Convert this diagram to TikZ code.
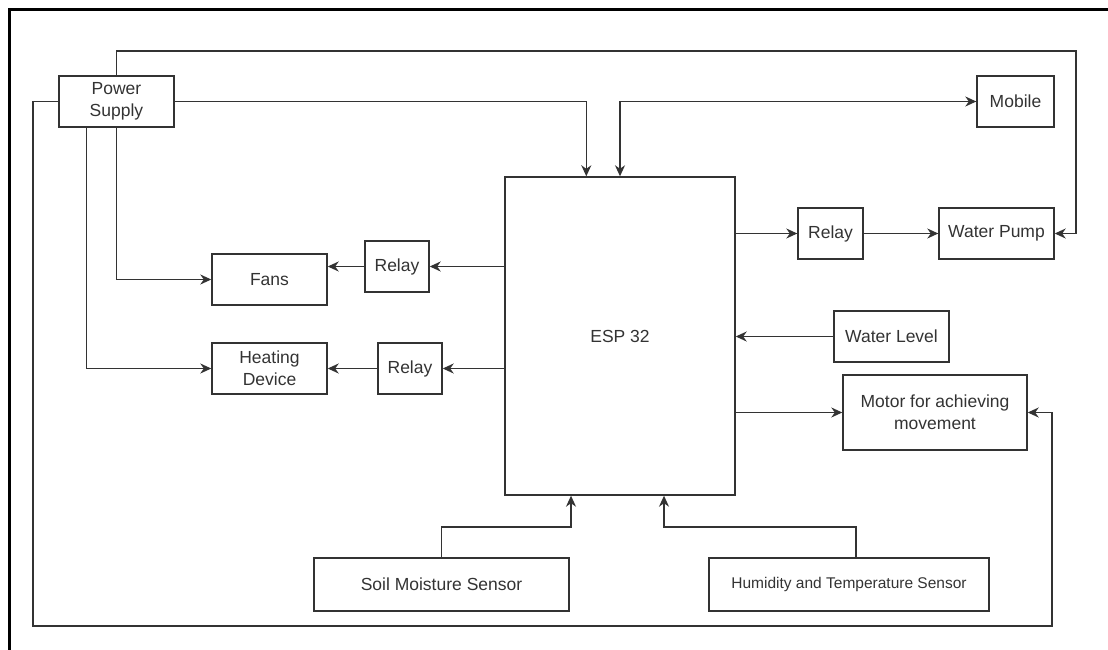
\documentclass[tikz,border=0pt]{standalone}
\usepackage{fontspec}
\setmainfont{Liberation Sans}
\usetikzlibrary{arrows.meta,calc}
\definecolor{ln}{HTML}{333333}
\definecolor{tx}{HTML}{333333}
\begin{document}
\begin{tikzpicture}[x=1pt,y=-1pt,
  box/.style={draw=ln,line width=1.4pt,rectangle,inner sep=2pt,align=center,text=tx,
    font=\fontsize{17.5}{22}\selectfont},
  con/.style={draw=ln,line width=1.4pt},
  tip/.style={},
  arr/.style={con,-{Stealth[length=11pt,width=10pt,inset=3.5pt]}},
  arrb/.style={con,{Stealth[length=11pt,width=10pt,inset=3.5pt]}-{Stealth[length=11pt,width=10pt,inset=3.5pt]}}]
\useasboundingbox (0,0) rectangle (1108,650);
% outer frame
\draw[line width=3pt,black] (9,650) -- (9,10) -- (1108,10);
% nodes
\node[box,minimum width=115pt,minimum height=51pt] (ps) at (116.5,101.5) {Power\\Supply};
\node[box,minimum width=77pt,minimum height=51pt] (mob) at (1015.5,101.5) {Mobile};
\node[box,minimum width=230pt,minimum height=318pt] (esp) at (620,336) {ESP 32};
\node[box,minimum width=65pt,minimum height=51pt] (relW) at (830.5,233.5) {Relay};
\node[box,minimum width=115pt,minimum height=51pt] (pump) at (996.5,233.5) {Water Pump};
\node[box,minimum width=115pt,minimum height=51pt] (fans) at (269.5,279.5) {Fans};
\node[box,minimum width=64pt,minimum height=51pt] (relF) at (397,266.5) {Relay};
\node[box,minimum width=115pt,minimum height=51pt] (heat) at (269.5,368.5) {Heating\\Device};
\node[box,minimum width=64pt,minimum height=51pt] (relH) at (410,368.5) {Relay};
\node[box,minimum width=115pt,minimum height=51pt] (wl) at (891.5,336.5) {Water Level};
\node[box,minimum width=184pt,minimum height=75pt] (motor) at (935,412.5) {Motor for achieving\\movement};
\node[box,minimum width=255pt,minimum height=53pt] (soil) at (441.5,584.5) {Soil Moisture Sensor};
\node[box,minimum width=280pt,minimum height=53pt,font=\fontsize{15.5}{18}\selectfont] (hum) at (849,584.5) {Humidity and Temperature Sensor};
% helper coordinates
\coordinate (tr) at (1076,51);
\coordinate (bl) at (33,626);
\coordinate (br) at (1052,626);
\coordinate (sj) at (571,527);
\coordinate (hj) at (664,527);
% connectors
\draw[arr] (ps.north) |- (tr) |- (pump.east);
\draw[arr] (ps.east) -| ($(esp.north west)+(82,0)$);
\draw[arrb] (esp.north) |- (mob.west);
\draw[arr] (esp.east |- relW.west) -- (relW.west);
\draw[arr] (relW.east) -- (pump.west);
\draw[arr] (esp.west |- relF.east) -- (relF.east);
\draw[arr] (relF.west) -- (relF.west -| fans.east);
\draw[arr] (esp.west |- relH.east) -- (relH.east);
\draw[arr] (relH.west) -- (heat.east);
\draw[arr] (ps.south) |- (fans.west);
\draw[arr] ($(ps.south west)+(28,0)$) |- (heat.west);
\draw[arr] (wl.west) -- (wl.west -| esp.east);
\draw[arr] (esp.east |- motor.west) -- (motor.west);
\draw[arr] (ps.west) -| (bl) -- (br) |- (motor.east);
\draw[arr] (soil.north) |- (sj) -- (sj |- esp.south);
\draw[arr] ($(hum.north)+(7,0)$) |- (hj) -- (hj |- esp.south);
\end{tikzpicture}
\end{document}
